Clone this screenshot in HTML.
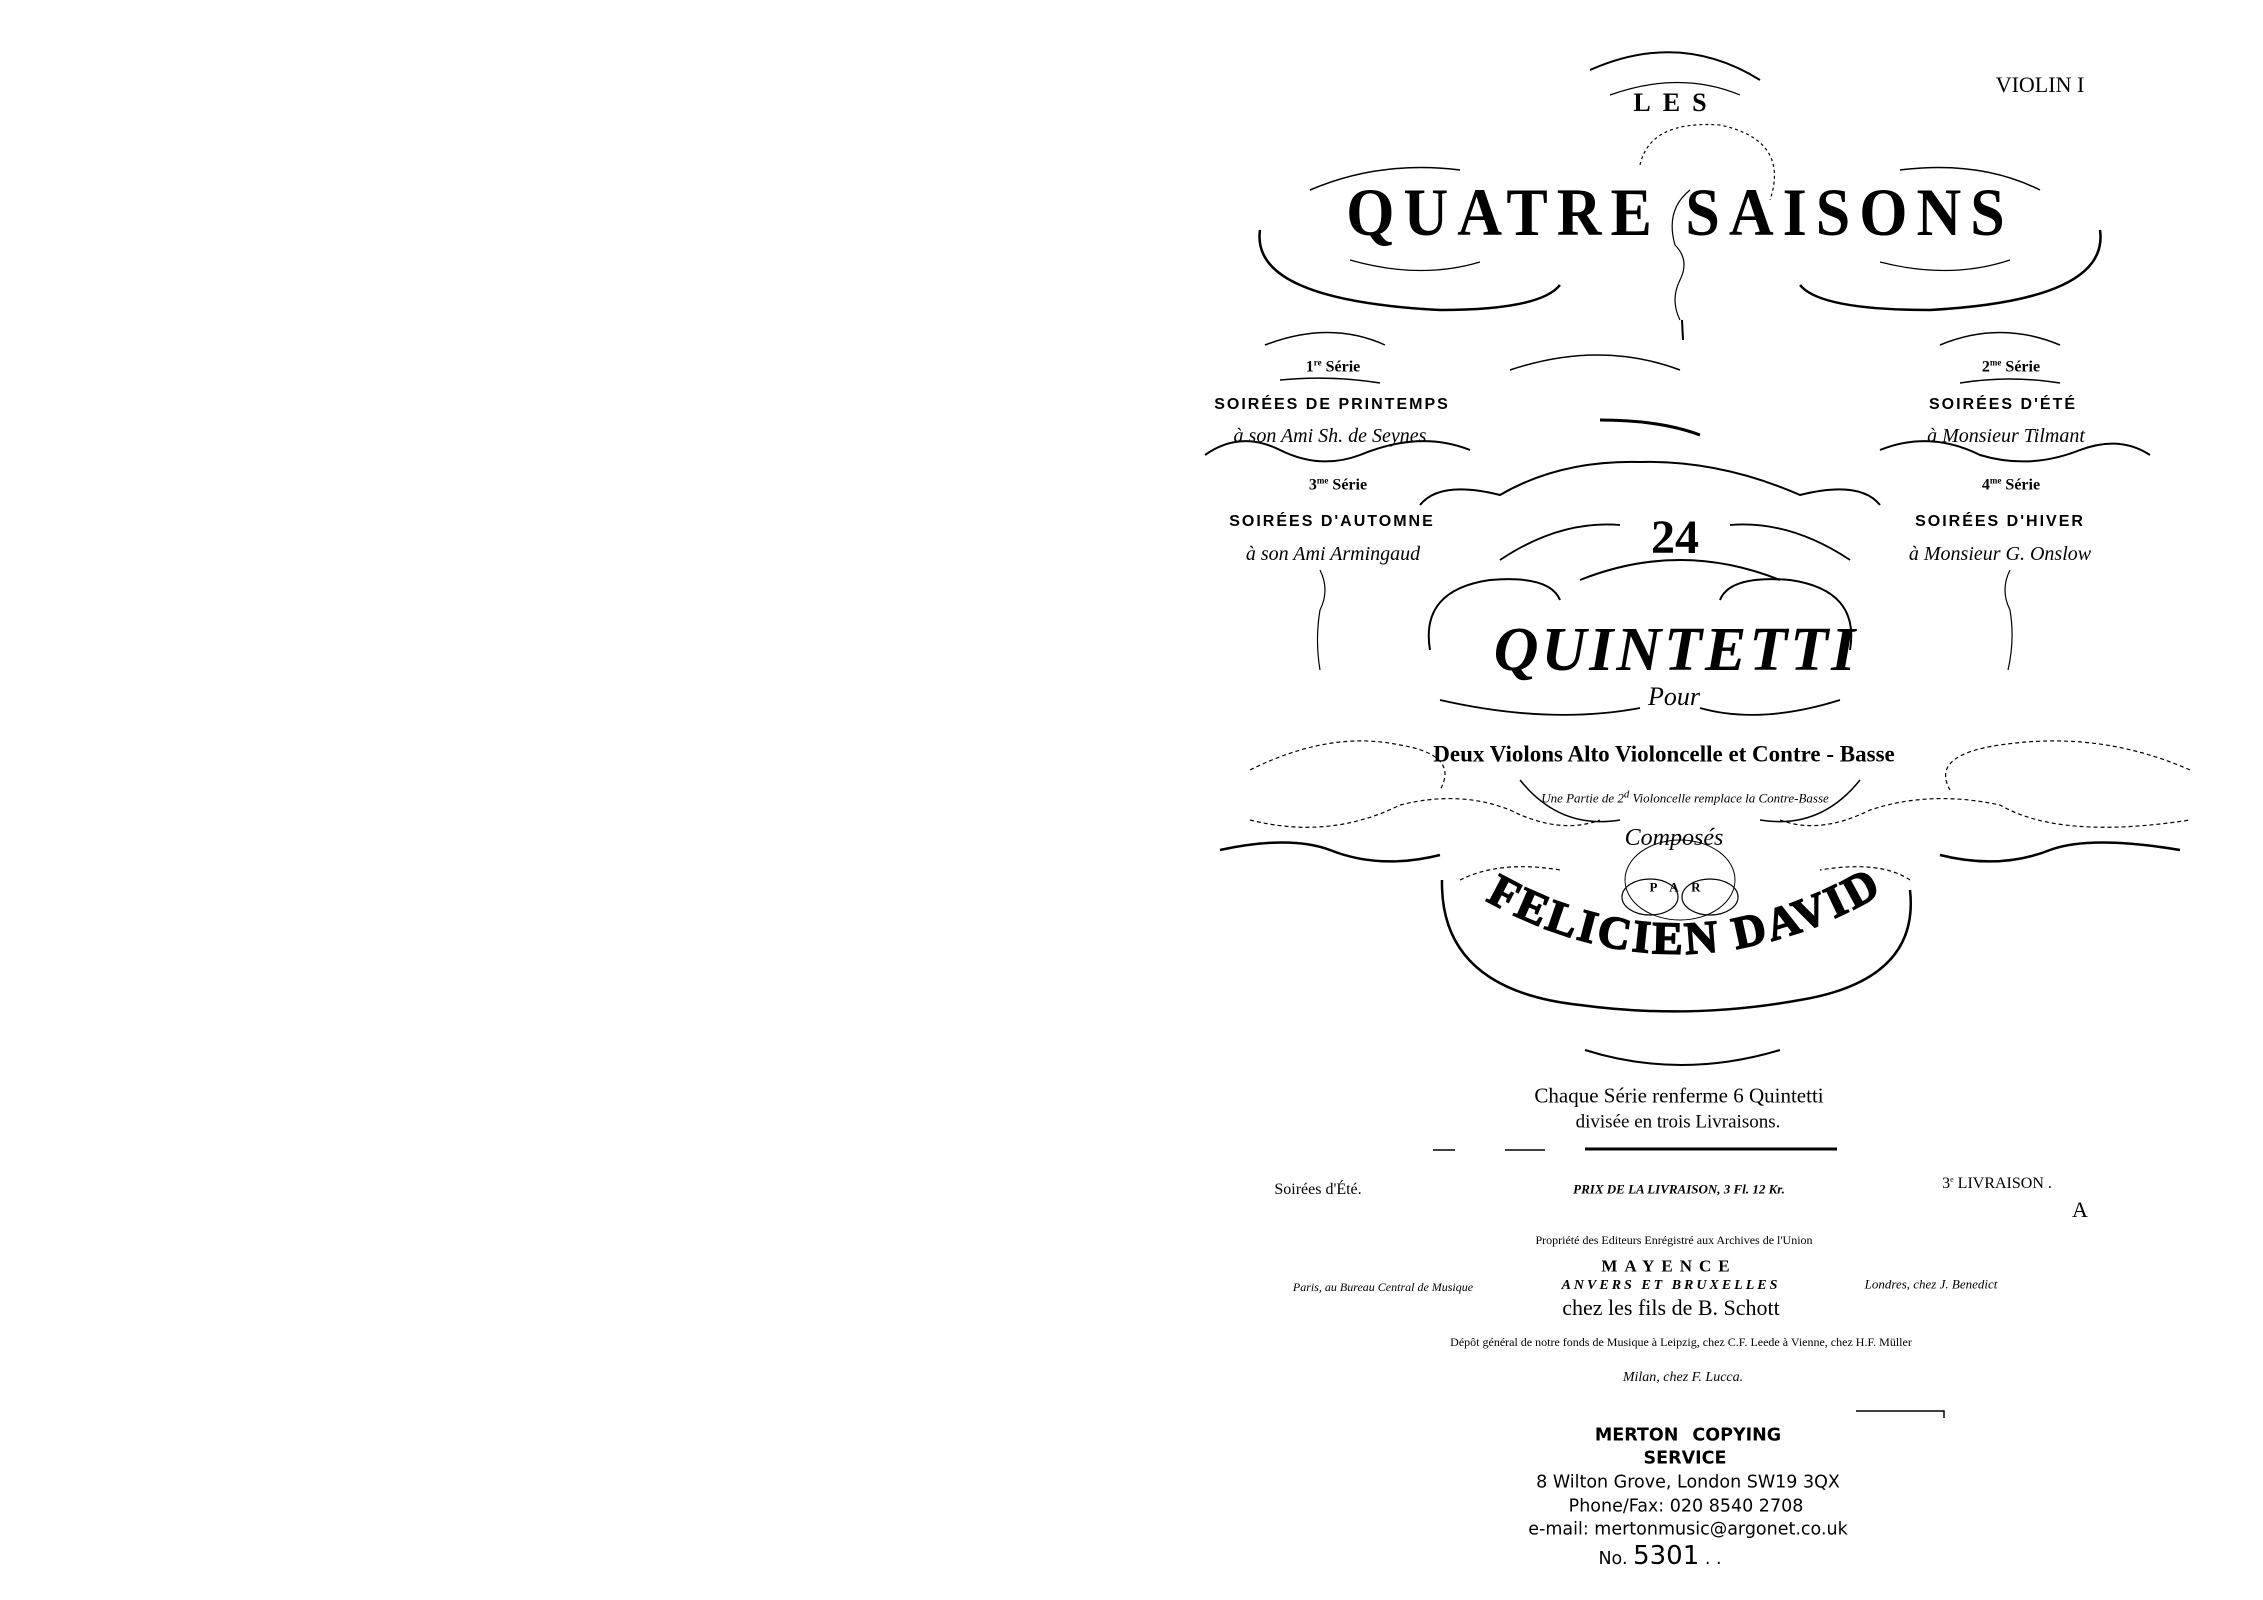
<!DOCTYPE html>
<html><head><meta charset="utf-8"><style>
html,body{margin:0;padding:0;background:#fff;}
body{width:2263px;height:1600px;position:relative;overflow:hidden;font-family:"Liberation Serif",serif;color:#000;}
.t{position:absolute;white-space:nowrap;line-height:1;transform:translate(-50%,-50%);}
.b{font-family:"Liberation Sans",sans-serif;font-weight:bold;letter-spacing:2px;font-size:16px;}
.i{font-style:italic;}
.m{font-family:"DejaVu Sans","Liberation Sans",sans-serif;font-size:17.5px;}
</style></head><body>
<svg width="2263" height="1600" style="position:absolute;left:0;top:0" fill="none" stroke="#000">
<path d="M1590 70 Q1680 30 1760 80" stroke-width="2"/>
<path d="M1610 95 Q1680 70 1740 95" stroke-width="1.2"/>
<path d="M1260 230 Q1250 300 1440 310 Q1540 310 1560 285" stroke-width="2.5"/>
<path d="M1310 190 Q1380 160 1460 170" stroke-width="1.5"/>
<path d="M1350 260 Q1420 280 1480 262" stroke-width="1.2"/>
<path d="M2100 230 Q2110 300 1930 310 Q1820 310 1800 285" stroke-width="2.5"/>
<path d="M1900 170 Q1980 160 2040 190" stroke-width="1.5"/>
<path d="M1880 262 Q1950 280 2010 260" stroke-width="1.2"/>
<path d="M1640 165 Q1650 120 1720 125 Q1790 140 1770 200" stroke-width="1.2" stroke-dasharray="3 3"/>
<path d="M1690 190 Q1665 210 1675 245 Q1690 260 1680 280 Q1670 300 1680 320" stroke-width="1.2"/>
<path d="M1682 320 L1683 340" stroke-width="2"/>
<path d="M1265 345 Q1330 320 1385 345" stroke-width="1.5"/>
<path d="M1280 380 Q1330 375 1380 383" stroke-width="1.5"/>
<path d="M1940 345 Q2000 320 2060 345" stroke-width="1.5"/>
<path d="M1960 383 Q2010 375 2060 383" stroke-width="1.5"/>
<path d="M1205 455 Q1240 430 1280 450 Q1320 470 1360 455 Q1420 430 1470 450" stroke-width="2"/>
<path d="M1880 450 Q1930 430 1980 455 Q2030 470 2080 450 Q2120 435 2150 455" stroke-width="2"/>
<path d="M1510 370 Q1600 340 1680 370" stroke-width="1.5"/>
<path d="M1600 420 Q1660 420 1700 435" stroke-width="3"/>
<path d="M1420 505 Q1440 480 1500 495 Q1560 460 1640 462 Q1720 460 1800 495 Q1860 480 1880 505" stroke-width="2"/>
<path d="M1500 560 Q1560 520 1620 525" stroke-width="1.8"/>
<path d="M1730 525 Q1790 520 1850 560" stroke-width="1.8"/>
<path d="M1320 570 Q1330 590 1320 610 Q1315 640 1320 670" stroke-width="1.2"/>
<path d="M2010 570 Q2000 590 2010 610 Q2015 640 2008 670" stroke-width="1.2"/>
<path d="M1430 650 Q1420 590 1490 580 Q1550 575 1560 600" stroke-width="2"/>
<path d="M1850 650 Q1860 590 1790 580 Q1730 575 1720 600" stroke-width="2"/>
<path d="M1580 580 Q1680 540 1780 580" stroke-width="2"/>
<path d="M1440 700 Q1550 725 1640 708" stroke-width="1.8"/>
<path d="M1840 700 Q1760 725 1700 708" stroke-width="1.8"/>
<path d="M1250 770 Q1330 730 1400 745 Q1460 755 1440 790" stroke-width="1.2" stroke-dasharray="4 3"/>
<path d="M1250 820 Q1330 840 1400 805 Q1460 790 1510 810 Q1560 835 1600 820" stroke-width="1.2" stroke-dasharray="4 3"/>
<path d="M1220 850 Q1290 835 1330 850 Q1380 870 1440 855" stroke-width="2.5"/>
<path d="M1940 855 Q2000 870 2050 850 Q2090 835 2180 850" stroke-width="2.5"/>
<path d="M2190 770 Q2100 730 2000 745 Q1930 755 1950 790" stroke-width="1.2" stroke-dasharray="4 3"/>
<path d="M1780 820 Q1820 835 1870 810 Q1930 790 2000 805 Q2060 840 2190 820" stroke-width="1.2" stroke-dasharray="4 3"/>
<path d="M1520 780 Q1560 830 1620 820" stroke-width="1.5"/>
<path d="M1860 780 Q1820 830 1760 820" stroke-width="1.5"/>
<path d="M1442 880 Q1440 990 1580 1005 Q1690 1020 1800 1000 Q1920 980 1910 890" stroke-width="2.5"/>
<path d="M1460 880 Q1500 860 1560 870" stroke-width="1.2" stroke-dasharray="4 3"/>
<path d="M1910 880 Q1880 860 1820 870" stroke-width="1.2" stroke-dasharray="4 3"/>
<ellipse cx="1650" cy="897" rx="28" ry="18" stroke-width="1.2"/>
<ellipse cx="1710" cy="897" rx="28" ry="18" stroke-width="1.2"/>
<ellipse cx="1680" cy="880" rx="55" ry="40" stroke-width="1"/>
<path d="M1585 1050 Q1680 1080 1780 1050" stroke-width="2"/>
<path d="M1585 1149 L1837 1149" stroke-width="3"/>
<path d="M1433 1150 L1455 1150 M1505 1150 L1545 1150" stroke-width="1.5"/>
<path d="M1856 1411 L1944 1411 L1944 1418" stroke-width="1.5"/>
</svg>

<div class="t" style="left:2040px;top:85px;font-size:22px;">VIOLIN I</div>
<div class="t" style="left:1676px;top:103px;font-size:26px;font-weight:bold;letter-spacing:12px;">LES</div>
<div class="t" style="left:1680px;top:213px;font-size:62px;font-weight:bold;letter-spacing:9px;transform:translate(-50%,-50%) scaleY(1.1);">QUATRE&nbsp;SAISONS</div>

<div class="t" style="left:1333px;top:367px;font-size:16px;font-weight:bold;">1<sup style="font-size:9px">re</sup> Série</div>
<div class="t b" style="left:1332px;top:405px;">SOIRÉES DE PRINTEMPS</div>
<div class="t i" style="left:1330px;top:436px;font-size:20px;">à son Ami Sh. de Seynes</div>
<div class="t" style="left:1338px;top:485px;font-size:16px;font-weight:bold;">3<sup style="font-size:9px">me</sup> Série</div>
<div class="t b" style="left:1332px;top:522px;">SOIRÉES D'AUTOMNE</div>
<div class="t i" style="left:1333px;top:554px;font-size:20px;">à son Ami Armingaud</div>

<div class="t" style="left:2011px;top:367px;font-size:16px;font-weight:bold;">2<sup style="font-size:9px">me</sup> Série</div>
<div class="t b" style="left:2003px;top:405px;">SOIRÉES D'ÉTÉ</div>
<div class="t i" style="left:2006px;top:436px;font-size:20px;">à Monsieur Tilmant</div>
<div class="t" style="left:2011px;top:485px;font-size:16px;font-weight:bold;">4<sup style="font-size:9px">me</sup> Série</div>
<div class="t b" style="left:2000px;top:522px;">SOIRÉES D'HIVER</div>
<div class="t i" style="left:2000px;top:554px;font-size:20px;">à Monsieur G. Onslow</div>

<div class="t" style="left:1675px;top:538px;font-size:48px;font-weight:bold;">24</div>
<div class="t" style="left:1676px;top:650px;font-size:62px;font-weight:bold;letter-spacing:3px;font-style:italic;">QUINTETTI</div>
<div class="t i" style="left:1674px;top:697px;font-size:26px;">Pour</div>
<div class="t" style="left:1664px;top:754px;font-size:23px;font-weight:bold;">Deux Violons Alto Violoncelle et Contre - Basse</div>
<div class="t i" style="left:1685px;top:797px;font-size:13px;">Une Partie de 2<sup>d</sup> Violoncelle remplace la Contre-Basse</div>
<div class="t i" style="left:1674px;top:838px;font-size:24px;">Composés</div>
<div class="t" style="left:1675px;top:887px;font-size:13px;font-weight:bold;word-spacing:10px;">P A R</div>

<svg width="2263" height="1600" style="position:absolute;left:0;top:0">
<path id="arc" d="M1485 900 Q1680 1010 1880 895" fill="none"/>
<text font-family="Liberation Serif" font-weight="bold" font-size="46" letter-spacing="3" stroke="#000" stroke-width="1.5"><textPath href="#arc">FELICIEN DAVID.</textPath></text>
</svg>

<div class="t" style="left:1679px;top:1096px;font-size:21px;">Chaque Série renferme 6 Quintetti</div>
<div class="t" style="left:1678px;top:1122px;font-size:19px;">divisée en trois Livraisons.</div>

<div class="t" style="left:1318px;top:1190px;font-size:16px;">Soirées d'Été.</div>
<div class="t i" style="left:1679px;top:1189px;font-size:13px;font-weight:bold;">PRIX DE LA LIVRAISON, 3 Fl. 12 Kr.</div>
<div class="t" style="left:1997px;top:1184px;font-size:16px;">3<sup style="font-size:8px">e</sup> LIVRAISON .</div>
<div class="t" style="left:2080px;top:1210px;font-size:22px;">A</div>

<div class="t" style="left:1674px;top:1240px;font-size:12px;">Propriété des Editeurs Enrégistré aux Archives de l'Union</div>
<div class="t" style="left:1669px;top:1266px;font-size:17px;font-weight:bold;letter-spacing:7px;">MAYENCE</div>
<div class="t i" style="left:1383px;top:1287px;font-size:12px;">Paris, au Bureau Central de Musique</div>
<div class="t i" style="left:1671px;top:1286px;font-size:14px;font-weight:bold;letter-spacing:3px;">ANVERS ET BRUXELLES</div>
<div class="t i" style="left:1931px;top:1284px;font-size:13px;">Londres, chez J. Benedict</div>
<div class="t" style="left:1671px;top:1308px;font-size:22px;">chez les fils de B. Schott</div>
<div class="t" style="left:1681px;top:1342px;font-size:12px;">Dépôt général de notre fonds de Musique à Leipzig, chez C.F. Leede à Vienne, chez H.F. Müller</div>
<div class="t i" style="left:1683px;top:1378px;font-size:14px;">Milan, chez F. Lucca.</div>

<div class="t m" style="left:1688px;top:1436px;font-weight:bold;word-spacing:8px;">MERTON COPYING</div>
<div class="t m" style="left:1685px;top:1459px;font-weight:bold;">SERVICE</div>
<div class="t m" style="left:1688px;top:1483px;">8 Wilton Grove, London SW19 3QX</div>
<div class="t m" style="left:1686px;top:1507px;">Phone/Fax: 020 8540 2708</div>
<div class="t m" style="left:1688px;top:1530px;">e-mail: mertonmusic@argonet.co.uk</div>
<div class="t m" style="left:1660px;top:1556px;">No. <span style="font-size:26px">5301</span> . .</div>
</body></html>
